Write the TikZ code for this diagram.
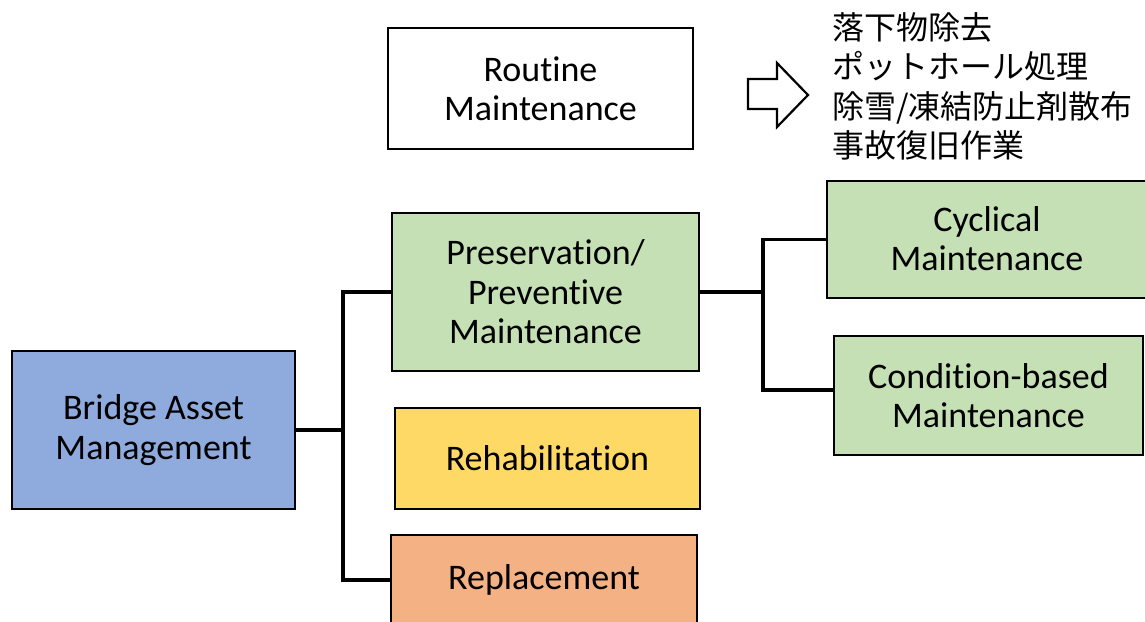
\documentclass[tikz,border=0pt]{standalone}
\usepackage{fontspec}
\setmainfont{Carlito}[Ligatures={NoCommon}]
\newfontfamily\jpfont{Noto Sans CJK JP}
\usetikzlibrary{calc}

\definecolor{bamblue}{HTML}{8FAADC}
\definecolor{presgreen}{HTML}{C5E0B4}
\definecolor{rehabyellow}{HTML}{FFD966}
\definecolor{replorange}{HTML}{F4B183}

\tikzset{
  box/.style={draw=black, line width=2.2pt, align=center, inner sep=0pt,
    font=\fontsize{36}{39.5}\selectfont},
  link/.style={draw=black, line width=3.2pt},
}

\begin{document}
\begin{tikzpicture}[x=1pt, y=-1pt]
  \useasboundingbox (0,0) rectangle (1145,621);
  \clip (0,0) rectangle (1145,621);

  % tree boxes
  \node[box, fill=bamblue, minimum width=283pt, minimum height=158pt]
    (bam) at (153.5,430) {Bridge Asset\\Management};
  \node[box, fill=white, minimum width=305pt, minimum height=121pt]
    (rout) at (540.5,88.5) {Routine\\Maintenance};
  \node[box, fill=presgreen, minimum width=307pt, minimum height=158pt]
    (pres) at (545.5,292) {Preservation/\\Preventive\\Maintenance};
  \node[box, fill=rehabyellow, minimum width=305pt, minimum height=101pt]
    (rehab) at (547.5,458.5) {Rehabilitation};
  \node[box, fill=replorange, minimum width=306pt, minimum height=90pt]
    (repl) at (544,580) {Replacement};
  \node[box, fill=presgreen, minimum width=330pt, minimum height=117pt]
    (cyc) at (992,239.5) {};
  \node[font=\fontsize{36}{39.5}\selectfont, align=center, inner sep=0pt]
    (cyctxt) at (987,238.5) {Cyclical\\Maintenance};
  \node[box, fill=presgreen, minimum width=309pt, minimum height=119pt]
    (cond) at (988.5,395.5) {Condition-based\\Maintenance};

  % connectors
  \coordinate (j1) at (343,430);
  \coordinate (j2) at (763,292);
  \draw[link] (bam.east) -- (j1);
  \draw[link] (j1) |- (pres.west);
  \draw[link] (j1) |- (repl.west);
  \draw[link] (pres.east) -- (j2);
  \draw[link] (j2) |- (cyc.west);
  \draw[link] (j2) |- ($(cond.west)+(0,-5.5)$);

  % block arrow
  \draw[line width=2.2pt, fill=white, line join=miter]
    (748,79) -- (777,79) -- (777,63) -- (808,95) -- (777,127)
    -- (777,109) -- (748,109) -- cycle;

  % routine tasks
  \node[anchor=west, align=left, inner sep=0pt,
        font=\jpfont\fontsize{32}{39.5}\selectfont] (tasks) at (832,86.5)
    {落下物除去\\ポットホール処理\\除雪/凍結防止剤散布\\事故復旧作業};
\end{tikzpicture}
\end{document}
